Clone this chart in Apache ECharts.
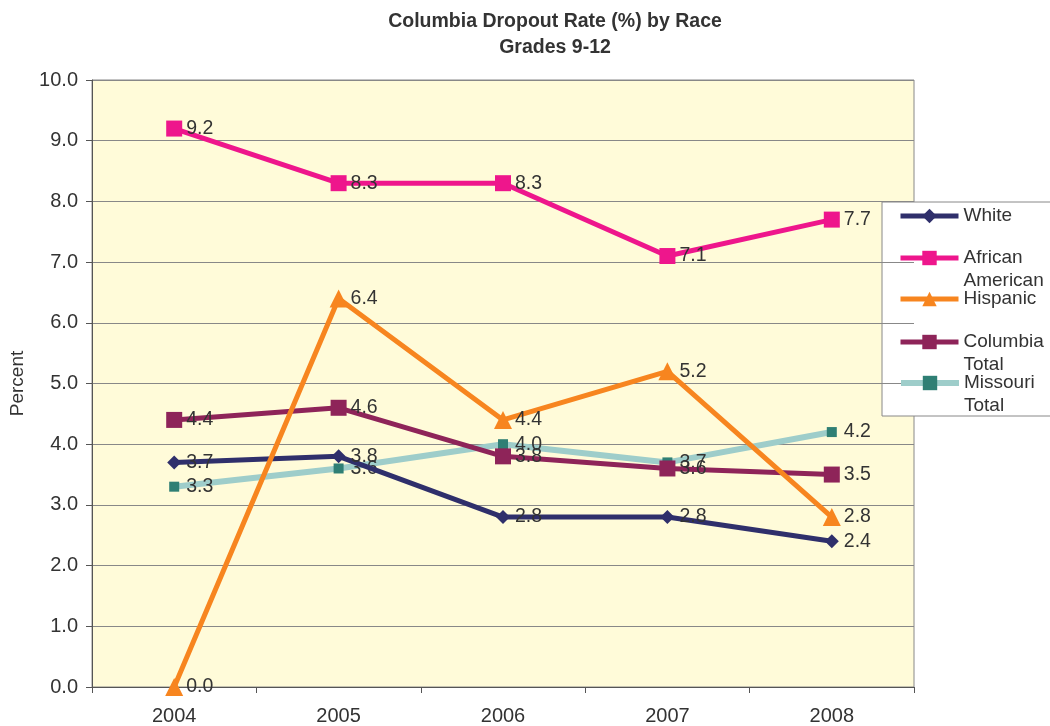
<!DOCTYPE html>
<html>
<head>
<meta charset="utf-8">
<script src="https://cdn.jsdelivr.net/npm/echarts@6/dist/echarts.min.js"></script>
<style>html,body{margin:0;padding:0;background:#fff;}#c{width:1050px;height:726px;}</style>
</head>
<body>
<div id="c"></div>
<script>
const years = ['2004', '2005', '2006', '2007', '2008'];
const white = [3.7, 3.8, 2.8, 2.8, 2.4];
const africanAmerican = [9.2, 8.3, 8.3, 7.1, 7.7];
const hispanic = [0.0, 6.4, 4.4, 5.2, 2.8];
const columbiaTotal = [4.4, 4.6, 3.8, 3.6, 3.5];
const missouriTotal = [3.3, 3.6, 4.0, 3.7, 4.2];
const yTicks = { min: 0, max: 10, interval: 1 };

const FONT = 'Liberation Sans, Arial, sans-serif';
const chart = echarts.init(document.getElementById('c'));

function mkSeries(name, data, color, lineColor, symbol, size, width, z) {
  return {
    name: name, type: 'line', data: data, symbol: symbol, symbolSize: size,
    z: z, clip: false,
    lineStyle: { color: lineColor, width: width },
    itemStyle: { color: color },
    label: {
      show: true, position: 'right', distance: 12 - size / 2,
      formatter: p => p.value.toFixed(1),
      color: '#333', fontSize: 19.5, fontFamily: FONT
    },
    emphasis: { disabled: true },
    animation: false
  };
}

function legendItem(name, top, twoLines, lw) {
  return {
    show: true, orient: 'vertical', left: 898, top: top, padding: 0,
    itemWidth: 58, itemHeight: 18, itemGap: 0,
    data: [name],
    formatter: n => twoLines ? '\n' + n : n,
    lineStyle: { width: lw },
    textStyle: { fontSize: 19, fontFamily: FONT, color: '#333', lineHeight: 23 },
    selectedMode: false
  };
}

chart.setOption({
  backgroundColor: '#fff',
  animation: false,
  title: {
    text: 'Columbia Dropout Rate (%) by Race\nGrades 9-12',
    left: 550, top: 4, textAlign: 'center',
    textStyle: { fontSize: 19.5, fontWeight: 'bold', color: '#333', fontFamily: FONT, lineHeight: 26 }
  },
  graphic: [{
    type: 'rect', shape: { x: 882, y: 202, width: 200, height: 214 },
    style: { fill: '#fff', stroke: '#888', lineWidth: 1 }, z: 0
  }],
  legend: [
    legendItem('White', 204.5, false, 5),
    legendItem('African\nAmerican', 223.5, true, 5),
    legendItem('Hispanic', 287.5, false, 5),
    legendItem('Columbia\nTotal', 307.5, true, 5),
    legendItem('Missouri\nTotal', 348.5, true, 6)
  ],
  grid: {
    left: 92, right: 136, top: 80, bottom: 39, show: true,
    outerBoundsMode: 'none', containLabel: false,
    backgroundColor: '#FFFBD9', borderColor: '#888', borderWidth: 1
  },
  xAxis: {
    type: 'category', data: years, boundaryGap: true,
    axisLine: { lineStyle: { color: '#555', width: 1 } },
    axisTick: { show: true, length: 6, lineStyle: { color: '#555' } },
    axisLabel: { fontSize: 20, color: '#333', fontFamily: FONT, margin: 19 }
  },
  yAxis: {
    type: 'value', min: yTicks.min, max: yTicks.max, interval: yTicks.interval,
    name: 'Percent', nameLocation: 'middle', nameGap: 65,
    nameTextStyle: { fontSize: 19, color: '#333', fontFamily: FONT },
    axisLine: { show: true, lineStyle: { color: '#555', width: 1 } },
    axisTick: { show: true, length: 6, lineStyle: { color: '#555' } },
    axisLabel: { fontSize: 20, color: '#333', fontFamily: FONT, margin: 14, formatter: v => v.toFixed(1) },
    splitLine: { lineStyle: { color: '#888', width: 1 } }
  },
  series: [
    mkSeries('White', white, '#2F2F6B', '#2F2F6B', 'diamond', 14, 5, 4),
    mkSeries('African\nAmerican', africanAmerican, '#EE168C', '#EE168C', 'rect', 16, 5, 4),
    mkSeries('Hispanic', hispanic, '#F7851F', '#F7851F', 'triangle', 18, 5, 6),
    mkSeries('Columbia\nTotal', columbiaTotal, '#8E2459', '#8E2459', 'rect', 16, 5, 3),
    mkSeries('Missouri\nTotal', missouriTotal, '#2F7F74', '#9ECDCA', 'rect', 10, 6, 2)
  ]
});
</script>
</body>
</html>
